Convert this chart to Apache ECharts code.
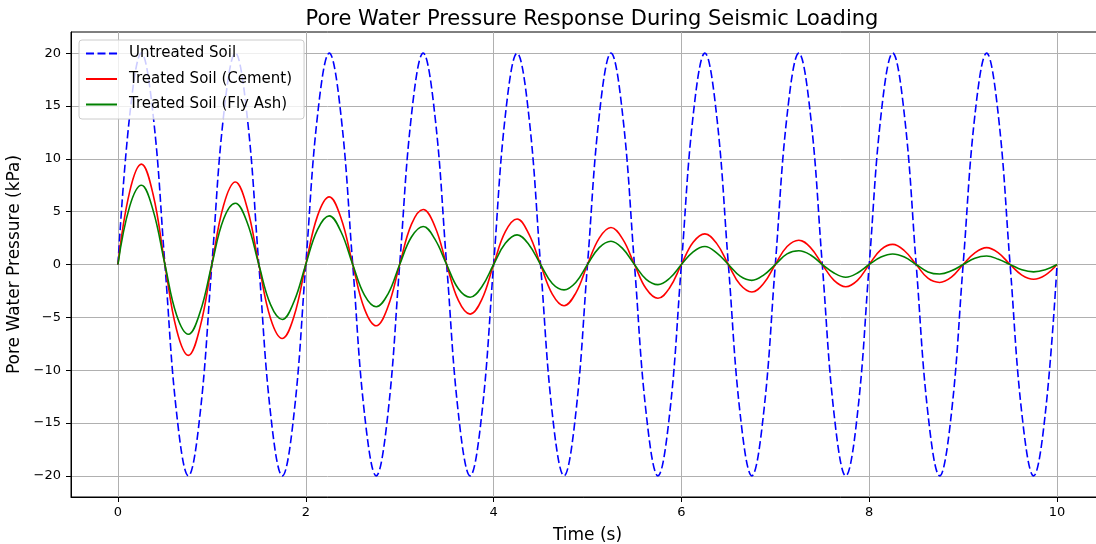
<!DOCTYPE html>
<html>
<head>
<meta charset="utf-8">
<script src="https://cdn.jsdelivr.net/npm/echarts@6/dist/echarts.min.js"></script>
<style>
  html, body { margin: 0; padding: 0; background: #fff; overflow: hidden; }
  #chart { width: 1096px; height: 544px; }
</style>
</head>
<body>
<div id="chart"></div>
<script>
// time samples (s)
const times = [
  0, 0.125, 0.25, 0.375, 0.5, 0.625, 0.75, 0.875,
  1, 1.125, 1.25, 1.375, 1.5, 1.625, 1.75, 1.875,
  2, 2.125, 2.25, 2.375, 2.5, 2.625, 2.75, 2.875,
  3, 3.125, 3.25, 3.375, 3.5, 3.625, 3.75, 3.875,
  4, 4.125, 4.25, 4.375, 4.5, 4.625, 4.75, 4.875,
  5, 5.125, 5.25, 5.375, 5.5, 5.625, 5.75, 5.875,
  6, 6.125, 6.25, 6.375, 6.5, 6.625, 6.75, 6.875,
  7, 7.125, 7.25, 7.375, 7.5, 7.625, 7.75, 7.875,
  8, 8.125, 8.25, 8.375, 8.5, 8.625, 8.75, 8.875,
  9, 9.125, 9.25, 9.375, 9.5, 9.625, 9.75, 9.875,
  10
];

// pore water pressure (kPa)
const untreated = [
  0, 14.1, 20, 14.1, 0, -14.1, -20, -14.1,
  0, 14.1, 20, 14.1, 0, -14.1, -20, -14.1,
  0, 14.1, 20, 14.1, 0, -14.1, -20, -14.1,
  0, 14.1, 20, 14.1, 0, -14.1, -20, -14.1,
  0, 14.1, 20, 14.1, 0, -14.1, -20, -14.1,
  0, 14.1, 20, 14.1, 0, -14.1, -20, -14.1,
  0, 14.1, 20, 14.1, 0, -14.1, -20, -14.1,
  0, 14.1, 20, 14.1, 0, -14.1, -20, -14.1,
  0, 14.1, 20, 14.1, 0, -14.1, -20, -14.1,
  0, 14.1, 20, 14.1, 0, -14.1, -20, -14.1,
  0
];

const cement = [
  0, 6.9, 9.5, 6.6, 0, -6.2, -8.6, -5.9,
  0, 5.6, 7.8, 5.4, 0, -5.1, -7.0, -4.9,
  0, 4.6, 6.4, 4.4, 0, -4.2, -5.8, -4.0,
  0, 3.8, 5.2, 3.6, 0, -3.4, -4.7, -3.3,
  0, 3.1, 4.3, 2.9, 0, -2.8, -3.9, -2.7,
  0, 2.5, 3.5, 2.4, 0, -2.3, -3.2, -2.2,
  0, 2.1, 2.9, 2.0, 0, -1.9, -2.6, -1.8,
  0, 1.7, 2.3, 1.6, 0, -1.5, -2.1, -1.5,
  0, 1.4, 1.9, 1.3, 0, -1.3, -1.7, -1.2,
  0, 1.1, 1.6, 1.1, 0, -1.0, -1.4, -1.0,
  0
];

const flyAsh = [
  0, 5.5, 7.5, 5.1, 0, -4.8, -6.6, -4.5,
  0, 4.3, 5.8, 4.0, 0, -3.8, -5.2, -3.5,
  0, 3.3, 4.6, 3.1, 0, -2.9, -4.0, -2.8,
  0, 2.6, 3.6, 2.4, 0, -2.3, -3.1, -2.1,
  0, 2.0, 2.8, 1.9, 0, -1.8, -2.4, -1.7,
  0, 1.6, 2.2, 1.5, 0, -1.4, -1.9, -1.3,
  0, 1.2, 1.7, 1.1, 0, -1.1, -1.5, -1.0,
  0, 1.0, 1.3, 0.9, 0, -0.8, -1.2, -0.8,
  0, 0.7, 1.0, 0.7, 0, -0.7, -0.9, -0.6,
  0, 0.6, 0.8, 0.5, 0, -0.5, -0.7, -0.5,
  0
];

const xTicks = [0, 2, 4, 6, 8, 10];
const yTicks = [-20, -15, -10, -5, 0, 5, 10, 15, 20];

const font = 'DejaVu Sans';
const pairs = (vals) => times.map((t, i) => [t, vals[i]]);
const fmt = (v) => String(v).replace('-', '\u2212');

const chart = echarts.init(document.getElementById('chart'));

const axisCommon = {
  axisLine: { show: true, onZero: false, lineStyle: { color: '#000', width: 1 } },
  axisTick: { show: true, length: 5, lineStyle: { color: '#000' } },
  axisLabel: { color: '#000', fontFamily: font, fontSize: 13, formatter: fmt },
  splitLine: { show: true, lineStyle: { color: '#b0b0b0', width: 1 } },
  nameTextStyle: { color: '#000', fontFamily: font, fontSize: 17 }
};

chart.setOption({
  backgroundColor: '#fff',
  animation: false,
  title: {
    text: 'Pore Water Pressure Response During Seismic Loading',
    left: 587,
    textAlign: 'center',
    top: 4,
    textStyle: { fontFamily: font, fontSize: 21, fontWeight: 'normal', color: '#000' }
  },
  grid: {
    left: 71, width: 1033, top: 32, bottom: 47,
    outerBoundsMode: 'none',
    containLabel: false,
    show: true, borderColor: '#000', borderWidth: 1
  },
  xAxis: Object.assign({}, axisCommon, {
    type: 'value',
    min: -0.5,
    max: 10.5,
    name: 'Time (s)',
    nameLocation: 'middle',
    nameGap: 30,
    axisTick: Object.assign({}, axisCommon.axisTick, { customValues: xTicks }),
    axisLabel: Object.assign({}, axisCommon.axisLabel, { customValues: xTicks, margin: 9 })
  }),
  yAxis: Object.assign({}, axisCommon, {
    type: 'value',
    min: -22,
    max: 22,
    name: 'Pore Water Pressure (kPa)',
    nameLocation: 'middle',
    nameGap: 41,
    axisTick: Object.assign({}, axisCommon.axisTick, { customValues: yTicks }),
    axisLabel: Object.assign({}, axisCommon.axisLabel, { customValues: yTicks, margin: 10 })
  }),
  legend: {
    orient: 'vertical',
    left: 79,
    top: 40,
    padding: [6, 12, 7, 6],
    itemGap: 10.5,
    itemWidth: 31,
    itemHeight: 14,
    backgroundColor: 'rgba(255,255,255,0.8)',
    borderColor: '#cccccc',
    borderWidth: 1,
    borderRadius: 3,
    itemStyle: { opacity: 0 },
    textStyle: { fontFamily: font, fontSize: 15, color: '#000', padding: [0, 0, 0, 7] },
    data: ['Untreated Soil', 'Treated Soil (Cement)', 'Treated Soil (Fly Ash)']
  },
  series: [
    {
      name: 'Untreated Soil',
      type: 'line',
      data: pairs(untreated),
      smooth: 0.4,
      symbol: 'none',
      lineStyle: { color: '#0000ff', width: 1.6, type: [8, 3.5] },
      itemStyle: { color: '#0000ff' }
    },
    {
      name: 'Treated Soil (Cement)',
      type: 'line',
      data: pairs(cement),
      smooth: 0.4,
      symbol: 'none',
      lineStyle: { color: '#ff0000', width: 1.6 },
      itemStyle: { color: '#ff0000' }
    },
    {
      name: 'Treated Soil (Fly Ash)',
      type: 'line',
      data: pairs(flyAsh),
      smooth: 0.4,
      symbol: 'none',
      lineStyle: { color: '#008000', width: 1.6 },
      itemStyle: { color: '#008000' }
    }
  ]
});
</script>
</body>
</html>
